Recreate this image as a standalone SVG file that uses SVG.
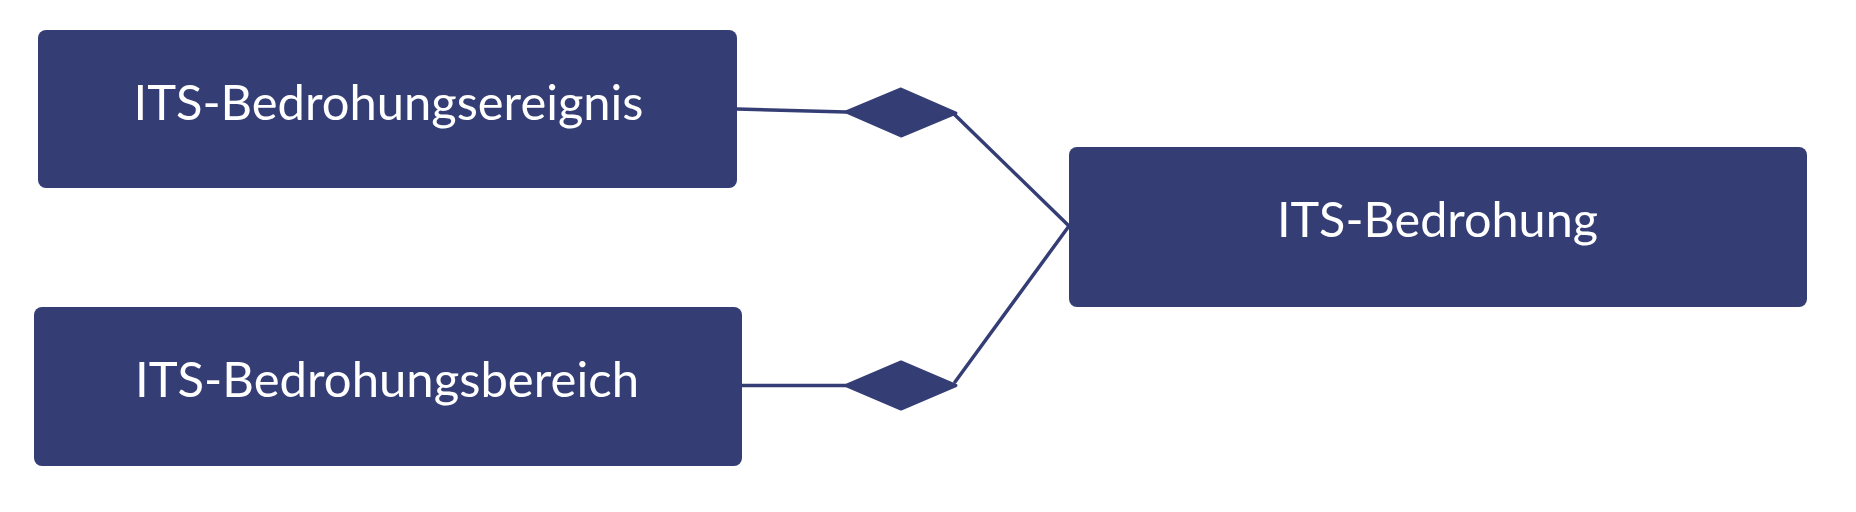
<svg xmlns="http://www.w3.org/2000/svg" width="1856" height="512" viewBox="0 0 1856 512">
<style>
.box{fill:#343E75}
.lbl{font-family:Lato,"Open Sans",sans-serif;font-size:48.5px;fill:#FFFFFF;text-anchor:middle}
.conn{stroke:#343E75;stroke-width:3.5;fill:none;stroke-linecap:round}
.dia{fill:#343E75;stroke:#343E75;stroke-width:3;stroke-linejoin:round}
</style>
<rect width="1856" height="512" fill="#FFFFFF"/>
<g id="connectors">
<line class="conn" x1="737" y1="109" x2="846" y2="112"/>
<line class="conn" x1="955" y1="115" x2="1069" y2="226"/>
<line class="conn" x1="742" y1="385.5" x2="846" y2="385.5"/>
<line class="conn" x1="955" y1="382" x2="1069" y2="226"/>
<polygon class="dia" points="846,112 901,89 956,113 901,136"/>
<polygon class="dia" points="846,385.5 901,362 956,385.5 901,409"/>
</g>
<g id="node-ereignis">
<rect class="box" x="38" y="30" width="699" height="158" rx="8"/>
<text class="lbl" x="388.5" y="120" textLength="510" lengthAdjust="spacingAndGlyphs">ITS-Bedrohungsereignis</text>
</g>
<g id="node-bereich">
<rect class="box" x="34" y="307" width="708" height="159" rx="8"/>
<text class="lbl" x="387" y="397" textLength="504" lengthAdjust="spacingAndGlyphs">ITS-Bedrohungsbereich</text>
</g>
<g id="node-bedrohung">
<rect class="box" x="1069" y="147" width="738" height="160" rx="8"/>
<text class="lbl" x="1437.5" y="236.5" textLength="321" lengthAdjust="spacingAndGlyphs">ITS-Bedrohung</text>
</g>
</svg>
